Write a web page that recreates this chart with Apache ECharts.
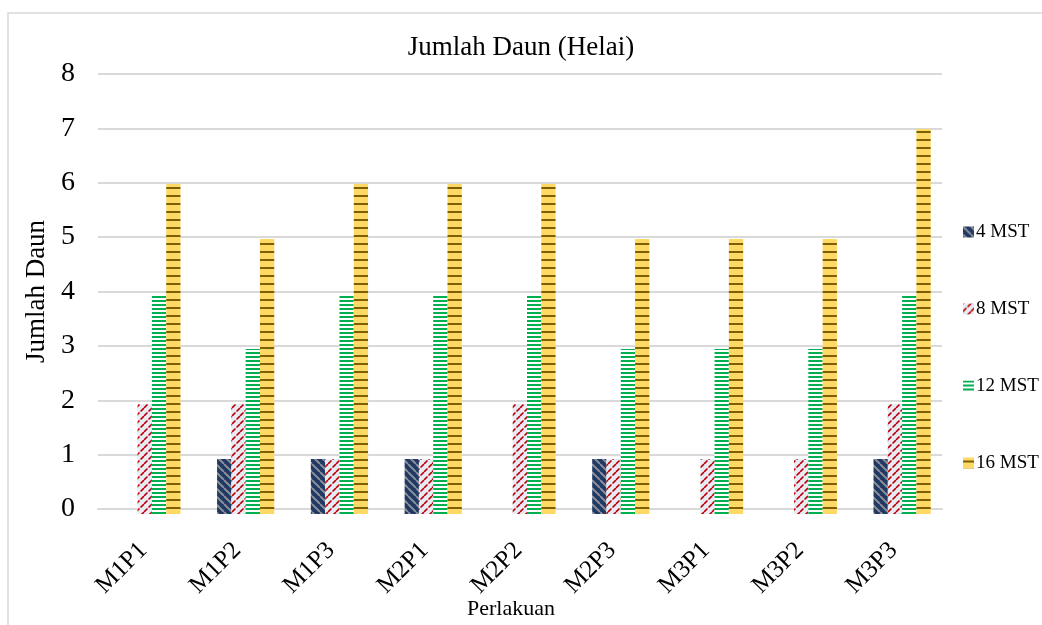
<!DOCTYPE html>
<html>
<head>
<meta charset="utf-8">
<script src="https://cdn.jsdelivr.net/npm/echarts@6/dist/echarts.min.js"></script>
<style>
  html, body { margin: 0; padding: 0; background: #fff; }
  #chart { width: 1042px; height: 625px; }
</style>
</head>
<body>
<div id="chart"></div>
<script>
// Leaf counts per treatment at each observation week
const categories = ['M1P1', 'M1P2', 'M1P3', 'M2P1', 'M2P2', 'M2P3', 'M3P1', 'M3P2', 'M3P3'];
const seriesNames = ['4 MST', '8 MST', '12 MST', '16 MST'];
const mst4  = [0, 1, 1, 1, 0, 1, 0, 0, 1];
const mst8  = [2, 2, 1, 1, 2, 1, 1, 1, 2];
const mst12 = [4, 3, 4, 4, 4, 3, 3, 3, 4];
const mst16 = [6, 5, 6, 6, 6, 5, 5, 5, 7];
const yTicks = [0, 1, 2, 3, 4, 5, 6, 7, 8];

const FONT = '"Liberation Serif", "DejaVu Serif", serif';

// Fill patterns painted on small tiles
function tile(w, h, paint) {
  const c = document.createElement('canvas');
  c.width = w; c.height = h;
  paint(c.getContext('2d'), w, h);
  return { image: c, repeat: 'repeat' };
}

// wide downward diagonal: navy with grey stripes
const patNavy = tile(8, 8, (g, w, h) => {
  g.fillStyle = '#1f3864';
  g.fillRect(0, 0, w, h);
  g.strokeStyle = '#8a8f99';
  g.lineWidth = 2;
  for (let k = -8; k <= 16; k += 8) {
    g.beginPath();
    g.moveTo(k, 0);
    g.lineTo(k + 8, 8);
    g.stroke();
  }
});

// dashed upward diagonal: red on pale blue
const patRed = tile(8, 8, (g, w, h) => {
  g.fillStyle = '#e6ebf5';
  g.fillRect(0, 0, w, h);
  g.strokeStyle = '#c00000';
  g.lineWidth = 1.6;
  for (let k = 0; k <= 16; k += 8) {
    g.beginPath();
    g.moveTo(k - 8, 8);
    g.lineTo(k - 4.5, 4.5);
    g.stroke();
    g.beginPath();
    g.moveTo(k - 3.5, 3.5);
    g.lineTo(k, 0);
    g.stroke();
  }
});

// narrow horizontal: green on white
const patGreen = tile(4, 4, (g, w, h) => {
  g.fillStyle = '#ffffff';
  g.fillRect(0, 0, w, h);
  g.fillStyle = '#00b050';
  g.fillRect(0, 0, w, 2);
});

// dashed horizontal: brown dashes on gold
const patGold = tile(8, 8, (g, w, h) => {
  g.fillStyle = '#ffd966';
  g.fillRect(0, 0, w, h);
  g.fillStyle = '#7f6000';
  g.fillRect(0, 3, w, 2);
});

const fills = [patNavy, patRed, patGreen, patGold];
const values = [mst4, mst8, mst12, mst16];

const chart = echarts.init(document.getElementById('chart'), null, { renderer: 'canvas' });

const option = {
  backgroundColor: '#ffffff',
  animation: false,
  title: {
    text: 'Jumlah Daun (Helai)',
    left: 'center',
    top: 29,
    textStyle: { fontFamily: FONT, fontSize: 27, fontWeight: 'normal', color: '#000' }
  },
  legend: {
    orient: 'vertical',
    left: 958,
    top: 217,
    itemWidth: 11,
    itemHeight: 11,
    itemGap: 57,
    icon: 'rect',
    data: seriesNames,
    textStyle: { fontFamily: FONT, fontSize: 19, color: '#000', lineHeight: 20, padding: [0, 0, 0, -3] }
  },
  graphic: [{
    type: 'rect',
    shape: { x: 8, y: 13, width: 1200, height: 800 },
    style: { fill: 'none', stroke: '#d9d9d9', lineWidth: 1.5 },
    silent: true,
    z: -1
  }],
  grid: [
    // gridline frame
    { left: 98, top: 74, width: 844, height: 440 },
    // bars
    { left: 105, top: 74, width: 844, height: 440 }
  ],
  xAxis: [
    {
      gridIndex: 0,
      type: 'category',
      data: categories,
      axisLine: { show: true, lineStyle: { color: '#d9d9d9', width: 2 } },
      axisTick: { show: false },
      axisLabel: { show: false },
      name: 'Perlakuan',
      nameLocation: 'middle',
      nameGap: 89,
      nameTextStyle: { fontFamily: FONT, fontSize: 22, color: '#000', padding: [0, 18, 0, 0] }
    },
    {
      gridIndex: 1,
      type: 'category',
      data: categories,
      axisLine: { show: false },
      axisTick: { show: false },
      axisLabel: {
        rotate: 45,
        margin: 24,
        fontFamily: FONT,
        fontSize: 25,
        color: '#000',
        padding: [0, 12, 0, 0]
      }
    }
  ],
  yAxis: [
    {
      gridIndex: 0,
      type: 'value',
      min: yTicks[0],
      max: yTicks[yTicks.length - 1],
      interval: 1,
      axisLine: { show: false },
      axisTick: { show: false },
      splitLine: { show: true, lineStyle: { color: '#d9d9d9', width: 2 } },
      axisLabel: { margin: 23, fontFamily: FONT, fontSize: 28, color: '#000' },
      name: 'Jumlah Daun',
      nameLocation: 'middle',
      nameRotate: 90,
      nameGap: 47,
      nameTextStyle: { fontFamily: FONT, fontSize: 27, color: '#000' }
    },
    {
      gridIndex: 1,
      type: 'value',
      min: yTicks[0],
      max: yTicks[yTicks.length - 1],
      interval: 1,
      show: false,
      splitLine: { show: false }
    }
  ],
  series: seriesNames.map((name, i) => ({
    name: name,
    type: 'bar',
    xAxisIndex: 1,
    yAxisIndex: 1,
    data: values[i],
    barGap: '0%',
    barCategoryGap: '39%',
    itemStyle: { color: fills[i] }
  }))
};

chart.setOption(option);
</script>
</body>
</html>
